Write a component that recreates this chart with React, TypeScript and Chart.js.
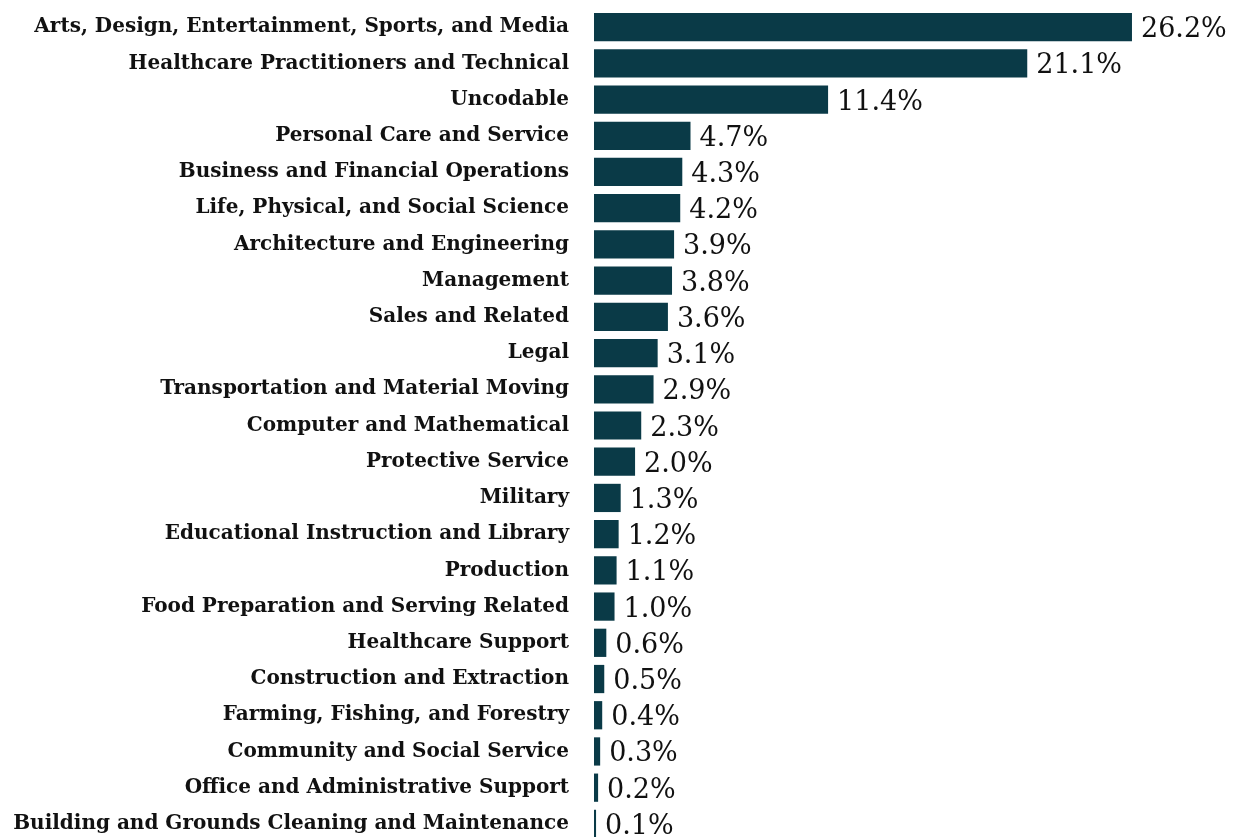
import React, { useEffect, useRef } from "react";
import { Chart, registerables } from "chart.js";

Chart.register(...registerables);

const categories = [
  "Arts, Design, Entertainment, Sports, and Media",
  "Healthcare Practitioners and Technical",
  "Uncodable",
  "Personal Care and Service",
  "Business and Financial Operations",
  "Life, Physical, and Social Science",
  "Architecture and Engineering",
  "Management",
  "Sales and Related",
  "Legal",
  "Transportation and Material Moving",
  "Computer and Mathematical",
  "Protective Service",
  "Military",
  "Educational Instruction and Library",
  "Production",
  "Food Preparation and Serving Related",
  "Healthcare Support",
  "Construction and Extraction",
  "Farming, Fishing, and Forestry",
  "Community and Social Service",
  "Office and Administrative Support",
  "Building and Grounds Cleaning and Maintenance",
];

const values = [
  26.2, 21.1, 11.4, 4.7, 4.3, 4.2, 3.9, 3.8, 3.6, 3.1, 2.9, 2.3, 2.0, 1.3, 1.2,
  1.1, 1.0, 0.6, 0.5, 0.4, 0.3, 0.2, 0.1,
];

const BAR_COLOR = "#0a3a47";

const valueLabelPlugin = {
  id: "valueLabels",
  afterDatasetsDraw(chart: any) {
    const ctx = chart.ctx;
    const meta = chart.getDatasetMeta(0);
    ctx.save();
    ctx.font = "27px 'DejaVu Serif', serif";
    ctx.fillStyle = "#111111";
    ctx.textAlign = "left";
    ctx.textBaseline = "middle";
    meta.data.forEach((bar: any, i: number) => {
      const v = values[i];
      ctx.fillText(v.toFixed(1) + "%", bar.x + 9, bar.y + 3);
    });
    ctx.restore();
  },
};

export default function App() {
  const ref = useRef<HTMLCanvasElement>(null);

  useEffect(() => {
    if (!ref.current) return;
    const chart = new Chart(ref.current, {
      type: "bar",
      data: {
        labels: categories,
        datasets: [
          {
            data: values,
            backgroundColor: BAR_COLOR,
            borderWidth: 0,
            barPercentage: 0.78,
            categoryPercentage: 1,
          },
        ],
      },
      options: {
        indexAxis: "y",
        responsive: false,
        animation: false,
        devicePixelRatio: 1,
        layout: { padding: { top: 9, bottom: 8, left: 0, right: 24 } },
        plugins: {
          legend: { display: false },
          tooltip: { enabled: false },
        },
        scales: {
          x: {
            display: false,
            min: 0,
            max: 30,
          },
          y: {
            afterFit: (scale: any) => {
              scale.width = 594;
              scale.paddingTop = 0;
              scale.paddingBottom = 0;
            },
            grid: { display: false, drawTicks: false },
            border: { display: false },
            ticks: {
              padding: 25,
              color: "#111111",
              autoSkip: false,
              font: { family: "'DejaVu Serif', serif", weight: "bold", size: 20 },
            },
          },
        },
      },
      plugins: [valueLabelPlugin],
    });
    return () => chart.destroy();
  }, []);

  return (
    <div
      style={{
        position: "absolute",
        left: 0,
        top: 0,
        width: 1234,
        height: 837,
        overflow: "hidden",
        background: "#ffffff",
      }}
    >
      <canvas ref={ref} width={1234} height={850} style={{ display: "block" }} />
    </div>
  );
}
